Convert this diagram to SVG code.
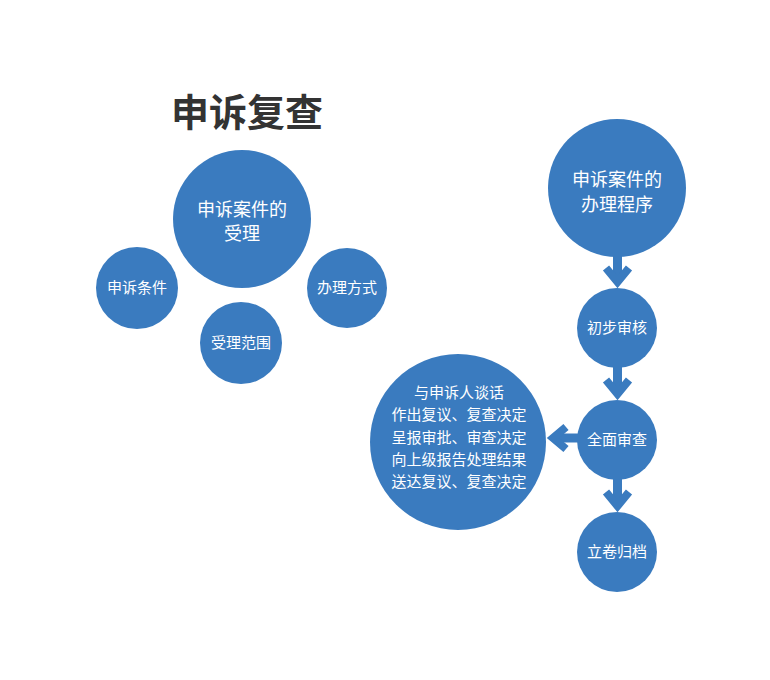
<svg xmlns="http://www.w3.org/2000/svg" width="770" height="680" viewBox="0 0 770 680">
<style>
.c{fill:#3a7bbf}
.t{fill:#ffffff;font-family:"Noto Sans CJK SC","Noto Sans",sans-serif;text-anchor:middle}
.s{font-size:15px}
.b{font-size:18px}
.ttl{fill:#333333;font-family:"Noto Sans CJK SC",sans-serif;font-size:38px;font-weight:bold;text-anchor:middle}
.sh{stroke:#3a7bbf;stroke-width:9;fill:none}
.hd{stroke:#3a7bbf;stroke-width:8;fill:none;stroke-linejoin:miter;stroke-miterlimit:10}
</style>
<rect width="770" height="680" fill="#ffffff"/>
<text class="ttl" x="247" y="126">申诉复查</text>
<g id="n-accept">
<circle class="c" cx="242" cy="219" r="69"/>
<text class="t b" x="242" y="216">申诉案件的</text>
<text class="t b" x="242" y="240">受理</text>
</g>
<g id="n-cond">
<circle class="c" cx="137" cy="288" r="41"/>
<text class="t s" x="137" y="293">申诉条件</text>
</g>
<g id="n-way">
<circle class="c" cx="347" cy="288" r="40"/>
<text class="t s" x="347" y="293">办理方式</text>
</g>
<g id="n-range">
<circle class="c" cx="241" cy="343" r="41"/>
<text class="t s" x="241" y="348">受理范围</text>
</g>
<g id="n-proc">
<circle class="c" cx="617" cy="188" r="69"/>
<text class="t b" x="617" y="186">申诉案件的</text>
<text class="t b" x="617" y="211">办理程序</text>
</g>
<g id="n-init">
<circle class="c" cx="617" cy="328" r="40"/>
<text class="t s" x="617" y="333">初步审核</text>
</g>
<g id="n-full">
<circle class="c" cx="617" cy="440" r="40"/>
<text class="t s" x="617" y="445">全面审查</text>
</g>
<g id="n-file">
<circle class="c" cx="617" cy="552" r="40"/>
<text class="t s" x="617" y="557">立卷归档</text>
</g>
<g id="n-steps">
<circle class="c" cx="458" cy="442" r="88"/>
<text class="t s" x="459" y="398">与申诉人谈话</text>
<text class="t s" x="459" y="420">作出复议、复查决定</text>
<text class="t s" x="459" y="443">呈报审批、审查决定</text>
<text class="t s" x="459" y="465">向上级报告处理结果</text>
<text class="t s" x="459" y="487">送达复议、复查决定</text>
</g>
<g id="connectors">
<line class="sh" x1="617.5" y1="256" x2="617.5" y2="278"/>
<polyline class="hd" points="606,268 617.5,282 629,268"/>
<line class="sh" x1="617.5" y1="367" x2="617.5" y2="390"/>
<polyline class="hd" points="606,380 617.5,394 629,380"/>
<line class="sh" x1="617.5" y1="479" x2="617.5" y2="502"/>
<polyline class="hd" points="606,492 617.5,506 629,492"/>
<line class="sh" x1="578" y1="438" x2="558" y2="438"/>
<polyline class="hd" points="566,427 553,438 566,449"/>
</g>
</svg>
